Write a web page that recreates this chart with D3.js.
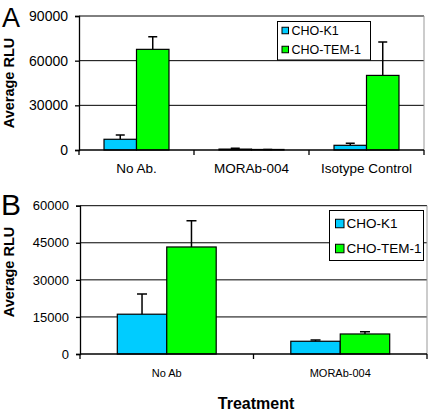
<!DOCTYPE html>
<html><head><meta charset="utf-8">
<script src="https://cdn.jsdelivr.net/npm/d3@7"></script>
<style>body{margin:0;background:#fff}svg{display:block;font-family:"Liberation Sans",Arial,sans-serif}</style>
</head><body><svg id="c" width="430" height="418"></svg>
<script>
const seriesNames = ["CHO-K1", "CHO-TEM-1"];
const colors = ["#00ccff", "#00ff00"];

const catsA = ["No Ab.", "MORAb-004", "Isotype Control"];
const meanK1A = [7200, 600, 3150];
const errK1A = [10000, 1100, 4500];
const meanTemA = [67600, 350, 50100];
const errTemA = [76100, 350, 72500];
const ticksA = [0, 30000, 60000, 90000];

const catsB = ["No Ab", "MORAb-004"];
const meanK1B = [16100, 5150];
const errK1B = [24300, 5650];
const meanTemB = [43300, 8100];
const errTemB = [53900, 9000];
const ticksB = [0, 15000, 30000, 45000, 60000];

const svg = d3.select("#c");

function panel(o) {
  const g = svg.append("g");
  const y = d3.scaleLinear().domain([0, o.ticks[o.ticks.length-1]]).range([o.y0, o.y1]);
  const x = d3.scaleBand().domain(o.cats).range([o.x0, o.x1]).paddingInner(o.pad).paddingOuter(o.pad/2);
  const xs = d3.scaleBand().domain(seriesNames).range([0, x.bandwidth()]);
  // gridlines
  g.selectAll(".grid").data(o.ticks.slice(1)).join("line")
    .attr("x1", o.x0).attr("x2", o.x1).attr("y1", d => y(d)).attr("y2", d => y(d))
    .attr("stroke", "#000").attr("stroke-width", 1);
  // right border
  g.append("line").attr("x1", o.x1).attr("x2", o.x1).attr("y1", o.y1).attr("y2", o.y0)
    .attr("stroke", "#999").attr("stroke-width", 1);
  // y axis
  const ya = g.append("g").attr("transform", `translate(${o.x0},0)`)
    .call(d3.axisLeft(y).tickValues(o.ticks).tickSize(4).tickPadding(7).tickFormat(d3.format("d")));
  ya.select(".domain").attr("stroke", "#000").attr("stroke-width", 1.3);
  ya.selectAll(".tick line").attr("stroke", "#000").attr("stroke-width", 1.3);
  ya.selectAll("text").attr("font-size", o.tickFs).attr("fill", "#000").attr("font-family", "Liberation Sans, Arial");
  // bars
  const series = [
    {name: seriesNames[0], mean: o.k1, err: o.k1e, color: colors[0]},
    {name: seriesNames[1], mean: o.tem, err: o.teme, color: colors[1]}
  ];
  series.forEach(s => {
    const data = o.cats.map((c, i) => ({c, v: s.mean[i], e: s.err[i]}));
    g.selectAll(null).data(data).join("rect")
      .attr("x", d => x(d.c) + xs(s.name)).attr("width", xs.bandwidth())
      .attr("y", d => y(d.v)).attr("height", d => y(0) - y(d.v))
      .attr("fill", s.color).attr("stroke", "#000").attr("stroke-width", 1.2);
    g.selectAll(null).data(data).join("path")
      .attr("d", d => {
        const cx = x(d.c) + xs(s.name) + xs.bandwidth()/2;
        return `M${cx},${y(d.v)}V${y(d.e)}M${cx-o.cap},${y(d.e)}H${cx+o.cap}`;
      })
      .attr("stroke", "#000").attr("stroke-width", 1.5).attr("fill", "none");
  });
  // x axis
  g.append("line").attr("x1", o.x0).attr("x2", o.x1).attr("y1", y(0)).attr("y2", y(0))
    .attr("stroke", "#000").attr("stroke-width", 1.5);
  const edges = o.cats.map(c => x(c) - x.step()*o.pad/2).concat([o.x1]);
  g.selectAll(null).data(edges).join("line")
    .attr("x1", d => d).attr("x2", d => d).attr("y1", y(0)).attr("y2", y(0) + 5)
    .attr("stroke", "#000").attr("stroke-width", 1.3);
  g.selectAll(null).data(o.cats).join("text")
    .attr("x", d => x(d) + x.bandwidth()/2).attr("y", o.catY)
    .attr("text-anchor", "middle").attr("font-size", o.catFs).text(d => d);
  // y title
  g.append("text").attr("transform", `translate(${o.titleX},${o.titleY}) rotate(-90)`)
    .attr("text-anchor", "middle").attr("font-weight", "bold").attr("font-size", 14.5)
    .text("Average RLU");
  // panel letter
  g.append("text").attr("x", o.letterX).attr("y", o.letterY).attr("font-size", o.letterFs).text(o.letter);
  // legend
  const L = o.leg;
  g.append("rect").attr("x", L.x).attr("y", L.y).attr("width", L.w).attr("height", L.h)
    .attr("fill", "#fff").attr("stroke", "#000").attr("stroke-width", 1);
  seriesNames.forEach((n, i) => {
    const cy = L.y + L.r0 + i * L.dy;
    g.append("rect").attr("x", L.sx).attr("y", cy - L.s/2).attr("width", L.s).attr("height", L.s)
      .attr("fill", colors[i]).attr("stroke", "#000").attr("stroke-width", 1);
    g.append("text").attr("x", L.tx).attr("y", cy).attr("dy", "0.35em")
      .attr("font-size", L.fs).text(n);
  });
}

panel({
  cats: catsA, k1: meanK1A, k1e: errK1A, tem: meanTemA, teme: errTemA, ticks: ticksA,
  x0: 79, x1: 424, y0: 150, y1: 16, pad: 0.435, cap: 4.5, tickFs: 14, catFs: 13.5, catY: 173,
  titleX: 14, titleY: 83, letter: "A", letterX: 2, letterY: 27, letterFs: 27,
  leg: {x: 277.5, y: 21.5, w: 93, h: 38.5, r0: 9, dy: 19, sx: 282, s: 6.5, tx: 291.5, fs: 12.5}
});
panel({
  cats: catsB, k1: meanK1B, k1e: errK1B, tem: meanTemB, teme: errTemB, ticks: ticksB,
  x0: 80, x1: 427, y0: 354, y1: 205.7, pad: 0.43, cap: 5, tickFs: 13, catFs: 11, catY: 377,
  titleX: 14, titleY: 272, letter: "B", letterX: 1, letterY: 215, letterFs: 30,
  leg: {x: 329.5, y: 210.5, w: 94, h: 50, r0: 13, dy: 25, sx: 335.5, s: 8.5, tx: 346.5, fs: 13.5}
});
svg.append("text").attr("x", 256).attr("y", 409).attr("text-anchor", "middle")
  .attr("font-weight", "bold").attr("font-size", 16).text("Treatment");
</script></body></html>
